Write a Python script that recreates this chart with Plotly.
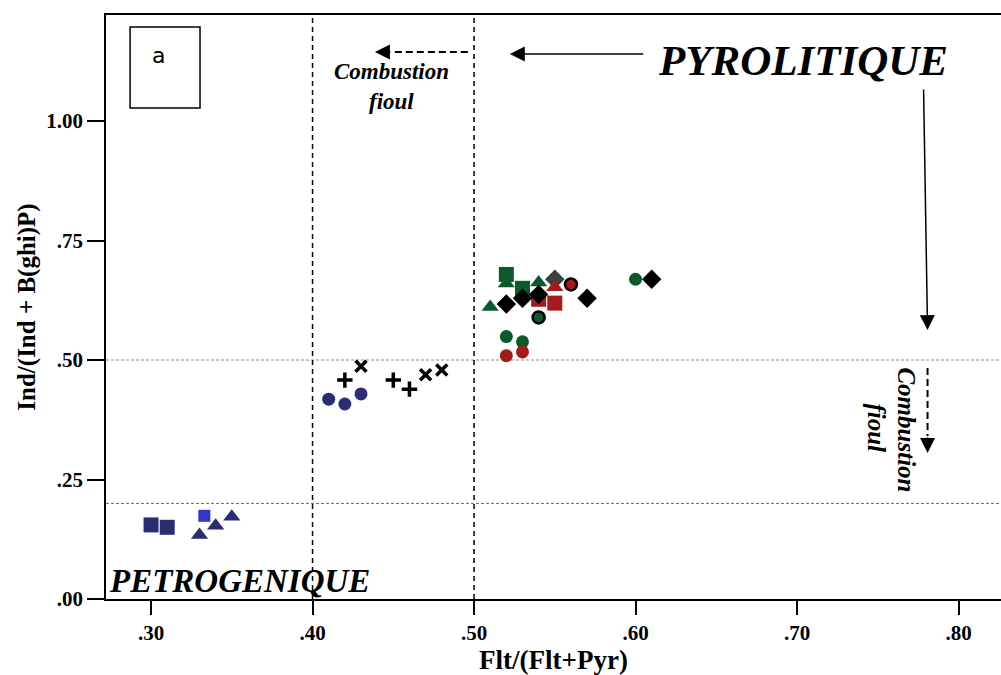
import plotly.graph_objects as go

# ---- data ----
navy_sq_x = [0.30, 0.31];            navy_sq_y = [0.155, 0.150]
blue_sq_x = [0.333];                 blue_sq_y = [0.174]
navy_tri_x = [0.33, 0.34, 0.35];     navy_tri_y = [0.134, 0.153, 0.172]
navy_cir_x = [0.41, 0.42, 0.43];     navy_cir_y = [0.418, 0.408, 0.429]
plus_x = [0.42, 0.45, 0.46];         plus_y = [0.458, 0.458, 0.439]
xmark_x = [0.43, 0.47, 0.48];        xmark_y = [0.487, 0.469, 0.479]
grey_dia_x = [0.55];                 grey_dia_y = [0.669]
green_tri_x = [0.51, 0.52, 0.54];    green_tri_y = [0.611, 0.660, 0.662]
green_sq_x = [0.52, 0.53];           green_sq_y = [0.679, 0.650]
green_cir_x = [0.52, 0.53, 0.60];    green_cir_y = [0.549, 0.538, 0.669]
green_cir_o_x = [0.54];              green_cir_o_y = [0.589]
red_sq_x = [0.54, 0.55];             red_sq_y = [0.627, 0.619]
red_tri_x = [0.55];                  red_tri_y = [0.652]
red_cir_x = [0.52, 0.53];            red_cir_y = [0.509, 0.517]
red_cir_o_x = [0.56];                red_cir_o_y = [0.658]
black_dia_x = [0.52, 0.53, 0.54, 0.57, 0.61]
black_dia_y = [0.617, 0.629, 0.637, 0.629, 0.669]

x_ticks = [0.30, 0.40, 0.50, 0.60, 0.70, 0.80]
x_tick_labels = [".30", ".40", ".50", ".60", ".70", ".80"]
y_ticks = [0.00, 0.25, 0.50, 0.75, 1.00]
y_tick_labels = [".00", ".25", ".50", ".75", "1.00"]

NAVY = "#2b2d73"
BLUE = "#3535c9"
GREEN = "#0b5a2c"
RED = "#a31b1b"
GREY = "#3f3f3f"

fig = go.Figure()

def add(x, y, symbol, color, size, line_color=None, line_width=0):
    fig.add_trace(go.Scatter(
        x=x, y=y, mode="markers", showlegend=False, hoverinfo="skip",
        marker=dict(symbol=symbol, color=color, size=size,
                    line=dict(color=line_color or color, width=line_width))))

add(navy_sq_x, navy_sq_y, "square", NAVY, 15)
add(blue_sq_x, blue_sq_y, "square", BLUE, 12)
add(navy_tri_x, navy_tri_y, "triangle-up", NAVY, 15)
add(navy_cir_x, navy_cir_y, "circle", NAVY, 13)
add(plus_x, plus_y, "cross-thin", "black", 11, "black", 3.5)
add(xmark_x, xmark_y, "x-thin", "black", 11, "black", 3.5)
add(grey_dia_x, grey_dia_y, "diamond", GREY, 15)
add(green_tri_x, green_tri_y, "triangle-up", GREEN, 15)
add(green_sq_x, green_sq_y, "square", GREEN, 15)
add(green_cir_x, green_cir_y, "circle", GREEN, 13)
add(green_cir_o_x, green_cir_o_y, "circle", GREEN, 12, "black", 2.5)
add(red_sq_x, red_sq_y, "square", RED, 15)
add(red_tri_x, red_tri_y, "triangle-up", RED, 15)
add(red_cir_x, red_cir_y, "circle", RED, 13)
add(red_cir_o_x, red_cir_o_y, "circle", RED, 12, "black", 2.5)
add(black_dia_x, black_dia_y, "diamond", "black", 15)

SERIF = "Liberation Serif"

def py(p):
    """pixel row -> data y (helper for annotation placement)"""
    return (599 - p) / 478

def px(p):
    return 0.30 + (p - 151) / 1616

# reference lines
fig.add_hline(y=0.5, line=dict(color="#8a8a8a", width=1, dash="3px,2px"), layer="below")
fig.add_hline(y=0.2, line=dict(color="#6a6a6a", width=1, dash="3px,2px"), layer="below")
fig.add_vline(x=0.40, line=dict(color="black", width=1.5, dash="5px,4px"), layer="below")
fig.add_vline(x=0.50, line=dict(color="black", width=1.5, dash="5px,4px"), layer="below")

# box "a"
fig.add_shape(type="rect", xref="x", yref="y", x0=px(130), x1=px(200), y0=py(108), y1=py(27),
              line=dict(color="black", width=1.5))
fig.add_annotation(x=px(158), y=py(55), text="a", showarrow=False,
                   font=dict(family="DejaVu Sans", size=22, color="black"))

ARW = dict(arrowhead=2, arrowsize=2.0, arrowwidth=1.5, arrowcolor="black")

# PYROLITIQUE and arrow
fig.add_annotation(x=px(803), y=py(60), text="<b><i>PYROLITIQUE</i></b>", showarrow=False,
                   font=dict(family=SERIF, size=43, color="black"))
fig.add_annotation(x=px(510), y=py(54), ax=px(645), ay=py(54), xref="x", yref="y",
                   axref="x", ayref="y", text="", showarrow=True, **ARW)

# dashed arrow to the left + text
fig.add_shape(type="line", xref="x", yref="y", x0=px(468), x1=px(392), y0=py(52), y1=py(52),
              line=dict(color="black", width=2, dash="7px,4px"))
fig.add_annotation(x=px(375), y=py(52), ax=px(392), ay=py(52), xref="x", yref="y",
                   axref="x", ayref="y", text="", showarrow=True, **ARW)
fig.add_annotation(x=px(392), y=py(71), text="<b><i>Combustion</i></b>", showarrow=False,
                   font=dict(family=SERIF, size=23, color="black"))
fig.add_annotation(x=px(392), y=py(101), text="<b><i>fioul</i></b>", showarrow=False,
                   font=dict(family=SERIF, size=23, color="black"))

# vertical solid arrow
fig.add_annotation(x=px(928), y=py(330), ax=px(924), ay=py(88),
                   xref="x", yref="y", axref="x", ayref="y", text="", showarrow=True, **ARW)
# vertical dashed arrow
fig.add_shape(type="line", xref="x", yref="y", x0=px(928), x1=px(928),
              y0=py(368), y1=py(436),
              line=dict(color="black", width=2, dash="7px,4px"))
fig.add_annotation(x=px(928), y=py(453), ax=px(928), ay=py(436),
                   xref="x", yref="y", axref="x", ayref="y", text="", showarrow=True, **ARW)
fig.add_annotation(x=px(907), y=py(430), text="<b><i>Combustion</i></b>",
                   showarrow=False, textangle=90,
                   font=dict(family=SERIF, size=25, color="black"))
fig.add_annotation(x=px(877), y=py(428), text="<b><i>fioul</i></b>",
                   showarrow=False, textangle=90,
                   font=dict(family=SERIF, size=25, color="black"))

# PETROGENIQUE
fig.add_annotation(x=px(107), y=py(581), text="<b><i>PETROGENIQUE</i></b>", showarrow=False,
                   xanchor="left", font=dict(family=SERIF, size=33, color="black"))

fig.update_layout(
    width=1001, height=675,
    margin=dict(l=106, r=0, t=15, b=76),
    plot_bgcolor="white", paper_bgcolor="white",
    font=dict(family=SERIF, color="black"),
    xaxis=dict(range=[0.2721, 0.8263], tickvals=x_ticks, ticktext=x_tick_labels,
               showgrid=False, zeroline=False, showline=True, linecolor="black",
               linewidth=1.5, mirror=True, ticks="outside", ticklen=14, tickwidth=1.5,
               tickcolor="black", tickfont=dict(family=SERIF, size=21, color="black",
                                                weight="bold"),
               title=dict(text="<b>Flt/(Flt+Pyr)</b>", font=dict(family=SERIF, size=27),
                          standoff=4)),
    yaxis=dict(range=[0, 1.2218], tickvals=y_ticks, ticktext=y_tick_labels,
               showgrid=False, zeroline=False, showline=True, linecolor="black",
               linewidth=1.5, ticks="outside", ticklen=17, tickwidth=1.5,
               tickcolor="black", tickfont=dict(family=SERIF, size=21, color="black",
                                                weight="bold"),
               title=dict(text="<b>Ind/(Ind + B(ghi)P)</b>", font=dict(family=SERIF, size=25),
                          standoff=4)),
)

fig.write_html("out.html")
